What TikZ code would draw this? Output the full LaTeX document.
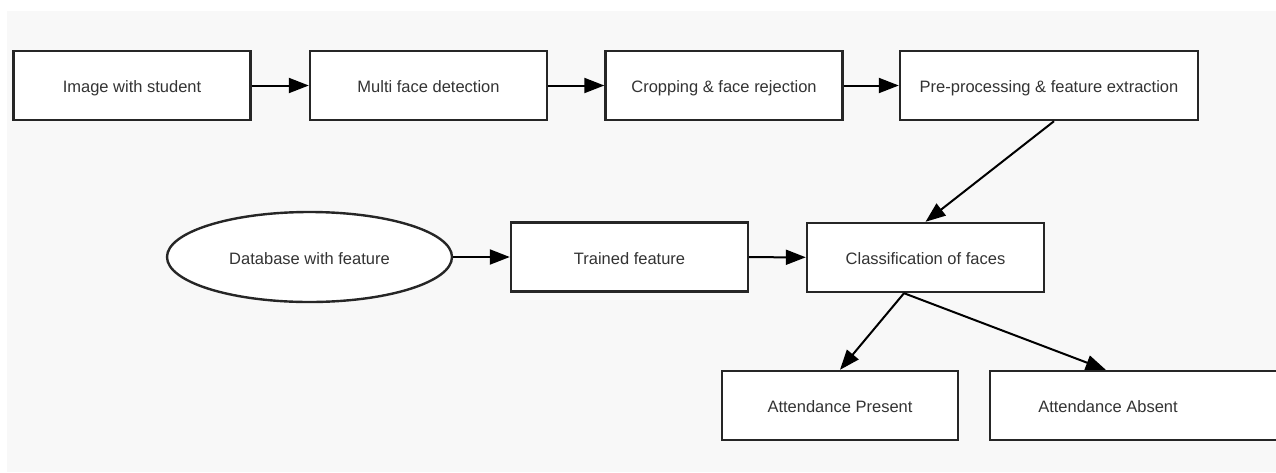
\documentclass[tikz,border=0pt]{standalone}
\usepackage{fontspec}
\setmainfont{Liberation Sans}
\usetikzlibrary{arrows.meta,shapes.geometric}
\definecolor{panel}{HTML}{F8F8F8}
\definecolor{edge}{HTML}{262626}
\definecolor{txt}{HTML}{333333}
\tikzset{
  box/.style={draw=edge, line width=2.4pt, fill=white, rectangle, minimum height=69pt, minimum width=237pt, inner sep=0pt, text=txt, text height=17pt, text depth=3pt, font=\fontsize{16.5}{20}\selectfont},
  oval/.style={draw=edge, line width=2.4pt, fill=white, ellipse, minimum height=90pt, minimum width=285pt, inner sep=0pt, text=txt, text height=17pt, text depth=3pt, font=\fontsize{16.5}{20}\selectfont},
  lbl/.style={text=txt, text height=17pt, text depth=3pt, font=\fontsize{16.5}{20}\selectfont, inner sep=0pt},
  conn/.style={draw=black, line width=2pt, -{Triangle[length=20pt,width=15pt]}}
}
\begin{document}
\begin{tikzpicture}[x=1pt,y=-1pt]
\useasboundingbox (0,0) rectangle (1276,472);
\clip (0,0) rectangle (1276,472);
\fill[white] (0,0) rectangle (1276,472);
\fill[panel] (7,11) rectangle (1276,472);

\node[box] (img) at (132,85.5) {Image with student};
\node[box] (mfd) at (428.5,85.5) {Multi face detection};
\node[box] (crop) at (724,85.5) {Cropping \& face rejection};
\node[box, minimum width=298pt] (pre) at (1049,85.5) {Pre-processing \& feature extraction};

\node[oval] (db) at (309.5,257) {Database with feature};
\node[box] (tr) at (629.5,257) {Trained feature};
\node[box] (cls) at (925.5,257.5) {Classification of faces};

\node[box, minimum width=236pt] (pres) at (840,405.5) {Attendance Present};
\node[box, minimum width=320pt, label={[lbl, xshift=-42pt]center:Attendance Absent}] (abs) at (1150,405.5) {};

\draw[conn] (img) -- (mfd);
\draw[conn] (mfd) -- (crop);
\draw[conn] (crop) -- (pre);
\draw[conn] ([xshift=5pt]pre.south) -- (cls.north);
\draw[conn] (db) -- (tr);
\draw[conn] (tr) -- (cls);
\draw[conn] ([xshift=-21.5pt]cls.south) -- (pres.north);
\draw[conn] ([xshift=-21.5pt]cls.south) -- ([xshift=117pt]abs.north west);
\end{tikzpicture}
\end{document}
